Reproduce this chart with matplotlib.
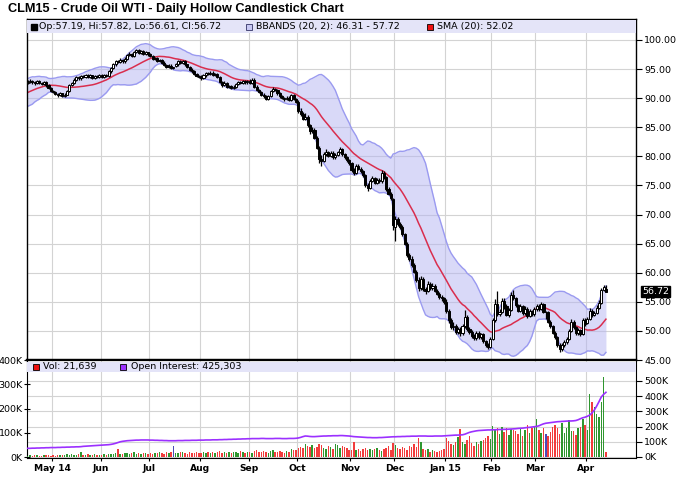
import numpy as np
import pandas as pd
import matplotlib
matplotlib.use('Agg')
import matplotlib.pyplot as plt
from matplotlib.patches import Rectangle

# CLM15 daily sessions, 15 Apr 2014 .. 14 Apr 2015 (exchange holidays dropped)
holidays = ['2014-04-18', '2014-05-26', '2014-07-04', '2014-09-01', '2014-11-27',
            '2014-12-25', '2015-01-01', '2015-01-19', '2015-02-16', '2015-04-03']
dates = pd.bdate_range('2014-04-15', '2015-04-14', freq='C', holidays=holidays)

# closes before the first visible day (only feed the 20-day bands)
prior_closes = [89.2, 89.5, 89.0, 89.6, 90.1, 89.8, 90.3, 90.6, 90.2, 90.9,
                91.3, 91.0, 91.6, 92.0, 91.8, 92.3, 92.6, 92.2, 92.5]

opens = [
    92.6, 92.8, 93.0, 92.8, 92.6, 92.9, 92.6, 92.5, 92.7, 92.2, 91.8,
    91.2, 91.1, 90.7, 90.5, 90.8, 90.4, 90.6, 91.3, 92.3, 92.6, 93.2, 93.6, 93.4, 93.8, 93.7, 94.0, 93.6, 93.9, 93.5, 93.8, 93.6,
    93.9, 93.7, 94.0, 93.8, 94.6, 95.2, 95.8, 96.4, 96.2, 96.6, 96.3, 96.8, 97.4, 97.6, 97.3, 97.9, 98.2, 97.8, 98.1, 97.6, 97.9,
    97.5, 97.2, 96.8, 96.9, 96.4, 96.6, 96.1, 95.7, 95.4, 95.6, 95.2, 95.5, 95.8, 96.3, 96.1, 96.4, 95.8, 95.3, 94.9, 94.6, 94.1, 93.8,
    93.6, 93.5, 93.9, 94.3, 94.1, 94.4, 94.0, 94.2, 93.6, 92.8, 92.3, 92.6, 91.9, 92.1, 91.7, 92.0, 92.4, 92.7, 92.6, 92.9, 92.7,
    93.0, 92.6, 93.2, 92.0, 91.4, 91.0, 90.6, 90.3, 89.9, 90.4, 91.2, 91.6, 91.4, 90.8, 90.3, 90.0, 89.8, 90.1, 89.7, 90.5, 89.9,
    89.4, 87.8, 87.2, 86.5, 86.8, 85.3, 84.3, 84.6, 83.2, 81.5, 79.6, 79.2, 80.4, 80.8, 80.1, 80.6, 79.8, 80.3, 80.7, 81.2, 80.4, 79.9, 79.3,
    78.9, 77.6, 77.2, 78.3, 77.9, 77.4, 76.8, 75.0, 74.6, 75.8, 76.2, 75.5, 76.0, 75.7, 77.2, 76.4, 74.4, 73.6, 72.6,
    67.9, 69.2, 68.4, 67.9, 66.6, 65.0, 63.0, 62.4, 61.3, 60.2, 58.8, 57.4, 58.9, 57.2, 56.8, 58.1, 57.3, 57.8, 56.9, 56.4, 55.8, 55.6,
    55.0, 53.4, 51.8, 50.7, 50.9, 49.8, 50.3, 49.6, 50.8, 52.4, 50.3, 49.8, 49.1, 48.7, 49.6, 48.9, 49.4, 48.2, 47.6, 47.3,
    48.6, 51.8, 54.6, 52.9, 53.2, 55.1, 54.2, 52.8, 53.6, 56.2, 55.7, 54.4, 53.5, 54.2, 53.0, 53.8, 52.6, 53.4, 52.9,
    53.7, 54.3, 53.8, 54.6, 53.2, 53.2, 51.6, 50.8, 49.7, 48.9, 47.6, 46.9, 47.6, 48.1, 48.6, 50.0, 51.6, 50.6, 49.6, 50.2, 49.5, 51.9,
    51.4, 52.0, 53.5, 52.7, 53.1, 54.0, 54.8, 57.0, 57.19,
]
highs = [
    93.1, 93.3, 93.2, 93.0, 93.1, 93.1, 92.8, 92.9, 92.9, 92.4, 91.9,
    91.4, 91.3, 90.9, 91.0, 90.9, 90.8, 91.4, 92.5, 92.8, 93.4, 93.8, 93.8, 94.0, 94.0, 94.2, 94.1, 94.1, 94.0, 94.0, 94.0, 94.1,
    94.1, 94.2, 94.2, 94.8, 95.4, 96.0, 96.6, 96.6, 96.9, 96.8, 97.0, 97.6, 97.9, 97.8, 98.1, 98.5, 98.4, 98.3, 98.2, 98.1, 98.0,
    97.7, 97.4, 97.1, 97.1, 96.8, 96.8, 96.3, 95.9, 95.8, 95.8, 95.4, 96.0, 96.5, 96.5, 96.6, 96.5, 95.9, 95.5, 95.1, 94.8, 94.3, 94.0,
    93.9, 94.1, 94.5, 94.5, 94.6, 94.6, 94.4, 94.3, 93.8, 93.0, 92.9, 92.8, 92.3, 92.3, 92.2, 92.6, 92.9, 92.9, 93.1, 93.1, 93.2,
    93.3, 93.5, 93.4, 92.2, 91.6, 91.2, 90.9, 90.5, 90.6, 91.4, 91.9, 91.8, 91.5, 91.0, 90.5, 90.2, 90.3, 90.3, 90.7, 90.7, 90.1,
    89.6, 88.3, 87.7, 87.4, 87.1, 85.6, 85.1, 84.9, 83.5, 81.8, 80.3, 80.8, 81.3, 81.0, 80.9, 80.9, 80.5, 80.9, 81.6, 81.4, 80.6, 80.1, 79.6,
    79.1, 78.0, 78.6, 78.6, 78.1, 77.6, 77.0, 75.4, 76.1, 76.6, 76.4, 76.3, 76.2, 77.7, 77.5, 76.6, 74.7, 73.9, 72.9,
    69.8, 69.6, 68.8, 68.2, 66.9, 65.3, 63.4, 62.8, 61.6, 60.5, 59.2, 59.4, 59.3, 57.6, 58.6, 58.4, 58.2, 58.0, 57.2, 56.7, 56.1, 55.9,
    55.4, 53.8, 52.3, 51.6, 51.2, 50.6, 50.6, 51.2, 53.6, 52.7, 50.7, 50.1, 49.4, 49.9, 49.9, 49.7, 49.6, 48.5, 47.9, 48.9,
    52.2, 55.4, 56.9, 53.8, 55.6, 55.6, 54.6, 54.0, 56.6, 57.0, 55.9, 54.7, 54.6, 54.4, 54.2, 54.1, 53.8, 53.6, 54.1,
    54.7, 54.6, 54.9, 54.8, 53.5, 53.4, 51.9, 51.0, 49.9, 49.2, 47.9, 47.9, 48.4, 48.9, 50.3, 52.0, 51.9, 50.9, 50.5, 50.4, 52.3, 52.2,
    52.4, 54.0, 53.8, 53.5, 54.4, 55.3, 57.3, 57.9, 57.82,
]
lows = [
    92.4, 92.6, 92.5, 92.3, 92.4, 92.4, 92.2, 92.3, 92.0, 91.6, 91.0,
    90.8, 90.5, 90.2, 90.3, 90.2, 90.2, 90.5, 91.1, 92.1, 92.4, 93.0, 93.2, 93.2, 93.5, 93.5, 93.4, 93.4, 93.3, 93.3, 93.4, 93.4,
    93.5, 93.5, 93.6, 93.7, 94.4, 95.0, 95.6, 96.0, 96.0, 96.1, 96.1, 96.6, 97.2, 97.1, 97.1, 97.7, 97.6, 97.6, 97.4, 97.4, 97.3,
    97.0, 96.6, 96.6, 96.2, 96.2, 95.9, 95.5, 95.2, 95.2, 95.0, 95.0, 95.3, 95.6, 95.9, 95.9, 95.6, 95.1, 94.7, 94.4, 93.9, 93.6, 93.4,
    93.2, 93.3, 93.7, 93.9, 93.9, 93.8, 93.8, 93.4, 92.6, 92.0, 92.1, 91.7, 91.7, 91.5, 91.5, 91.8, 92.2, 92.4, 92.4, 92.5, 92.5,
    92.4, 92.4, 91.8, 91.2, 90.8, 90.4, 90.1, 89.6, 89.7, 90.2, 91.0, 91.2, 90.6, 90.1, 89.8, 89.5, 89.6, 89.5, 89.5, 89.7, 89.1,
    87.5, 86.9, 86.2, 86.2, 85.0, 83.9, 84.0, 82.9, 81.2, 78.9, 78.4, 79.0, 80.1, 79.8, 79.9, 79.5, 79.5, 80.0, 80.5, 80.1, 79.6, 79.0, 78.5,
    77.3, 76.8, 77.0, 77.6, 77.2, 76.5, 74.7, 74.1, 74.4, 75.6, 75.2, 75.3, 75.4, 75.5, 76.1, 74.1, 73.3, 72.5, 67.4,
    65.5, 68.0, 67.5, 66.3, 64.7, 62.7, 62.0, 61.0, 59.9, 58.4, 56.9, 57.1, 56.9, 56.4, 56.6, 57.0, 57.0, 56.6, 56.1, 55.5, 55.2, 54.7,
    53.1, 51.4, 50.3, 50.2, 49.5, 49.4, 49.2, 49.3, 50.5, 50.0, 49.5, 48.8, 48.4, 48.5, 48.6, 48.6, 47.9, 47.2, 46.9, 47.1,
    48.4, 51.5, 52.6, 52.5, 53.0, 53.8, 52.5, 52.4, 53.4, 55.3, 54.1, 53.2, 53.2, 52.7, 52.8, 52.3, 52.4, 52.6, 52.6,
    53.4, 53.5, 53.6, 53.0, 52.1, 51.3, 50.5, 49.4, 48.6, 47.3, 46.4, 46.6, 47.3, 47.7, 48.4, 49.8, 50.3, 49.3, 49.3, 49.2, 49.3, 50.9,
    51.2, 51.8, 52.4, 52.5, 52.9, 53.8, 54.6, 56.8, 56.61,
]
closes = [
    92.8, 93.0, 92.7, 92.6, 92.9, 92.6, 92.5, 92.7, 92.2, 91.8, 91.2,
    91.0, 90.7, 90.5, 90.8, 90.4, 90.6, 91.2, 92.3, 92.6, 93.2, 93.6, 93.4, 93.8, 93.7, 94.0, 93.6, 93.9, 93.5, 93.8, 93.6, 93.9,
    93.7, 94.0, 93.8, 94.6, 95.2, 95.8, 96.4, 96.2, 96.6, 96.3, 96.8, 97.4, 97.6, 97.3, 97.9, 98.2, 97.8, 98.1, 97.6, 97.9, 97.5,
    97.2, 96.8, 96.9, 96.4, 96.6, 96.1, 95.7, 95.4, 95.6, 95.2, 95.2, 95.8, 96.3, 96.1, 96.4, 95.8, 95.3, 94.9, 94.6, 94.1, 93.8, 93.6,
    93.5, 93.9, 94.3, 94.1, 94.4, 94.0, 94.2, 93.6, 92.8, 92.3, 92.6, 91.9, 92.1, 91.7, 92.0, 92.4, 92.7, 92.6, 92.9, 92.7, 93.0,
    92.6, 93.2, 92.0, 91.4, 91.0, 90.6, 90.3, 89.9, 90.4, 91.2, 91.6, 91.4, 90.8, 90.3, 90.0, 89.8, 90.1, 89.7, 90.5, 89.9, 89.4,
    87.8, 87.2, 86.5, 86.8, 85.3, 84.3, 84.6, 83.2, 81.5, 79.6, 79.2, 80.4, 80.8, 80.1, 80.6, 79.8, 80.3, 80.7, 81.2, 80.4, 79.9, 79.3, 78.9,
    77.6, 77.2, 78.3, 77.9, 77.4, 76.8, 75.0, 74.6, 75.8, 76.2, 75.5, 76.0, 75.7, 77.2, 76.4, 74.4, 73.6, 72.8, 68.2,
    69.2, 68.4, 67.9, 66.6, 65.0, 63.0, 62.4, 61.3, 60.2, 58.8, 57.4, 58.9, 57.2, 56.8, 58.1, 57.3, 57.8, 56.9, 56.4, 55.8, 55.6, 55.0,
    53.4, 51.8, 50.7, 50.9, 49.8, 50.3, 49.6, 50.8, 52.4, 50.3, 49.8, 49.1, 48.7, 49.6, 48.9, 49.4, 48.2, 47.6, 47.3, 48.6,
    51.8, 54.6, 52.9, 53.2, 55.1, 54.2, 52.8, 53.6, 56.2, 55.7, 54.4, 53.5, 54.2, 53.0, 53.8, 52.6, 53.4, 52.9, 53.7,
    54.3, 53.8, 54.6, 53.2, 53.2, 51.6, 50.8, 49.7, 48.9, 47.6, 46.9, 47.6, 48.1, 48.6, 50.0, 51.6, 50.6, 49.6, 50.2, 49.5, 51.9, 51.2,
    52.0, 53.5, 52.7, 53.1, 54.0, 54.8, 57.0, 57.6, 56.72,
]
# volume and open interest, thousands of contracts
volume = [
    6, 8, 5, 7, 9, 6, 5, 8, 7, 10, 6,
    8, 6, 9, 7, 10, 8, 12, 9, 11, 7, 10, 13, 19, 9, 8, 11, 7, 9, 12, 10, 8,
    10, 12, 9, 14, 11, 13, 16, 33, 14, 12, 18, 15, 13, 17, 19, 14, 16, 12, 15, 18, 13,
    16, 14, 18, 15, 20, 17, 13, 19, 16, 21, 45, 17, 15, 19, 22, 18, 14, 20, 17, 16, 21, 18,
    17, 20, 15, 22, 18, 21, 16, 19, 23, 17, 20, 18, 22, 15, 19, 21, 17, 24, 19, 16, 20,
    22, 18, 25, 28, 20, 19, 24, 21, 17, 23, 29, 19, 22, 26, 20, 18, 24, 21, 33, 27, 30,
    36, 42, 38, 54, 45, 40, 48, 36, 42, 55, 50, 38, 32, 44, 40, 35, 55, 50, 38, 45, 41, 36, 30,
    28, 62, 30, 35, 26, 32, 38, 29, 33, 27, 31, 36, 28, 25, 34, 39, 45, 30, 56,
    48, 38, 34, 42, 36, 30, 45, 40, 52, 41, 78, 60, 35, 28, 33, 22, 30, 26, 20, 24, 28, 32,
    78, 66, 55, 48, 62, 82, 115, 60, 52, 70, 86, 58, 47, 63, 55, 68, 72, 80, 86, 74,
    128, 110, 118, 96, 122, 105, 120, 92, 115, 110, 108, 96, 120, 88, 112, 130, 98, 118, 124,
    156, 111, 98, 120, 95, 86, 104, 124, 132, 118, 96, 140, 99, 120, 153, 108, 106, 92, 118, 125, 156, 130,
    111, 258, 228, 205, 178, 165, 225, 330, 21.639,
]
open_interest = [
    57, 57, 58, 58, 59, 59, 60, 60, 61, 61, 62,
    62, 62, 63, 63, 64, 64, 65, 65, 66, 66, 67, 67, 68, 70, 71, 72, 73, 74, 75, 76, 77,
    78, 79, 80, 81, 83, 86, 90, 95, 100, 103, 105, 107, 108, 109, 110, 111, 111, 112, 112, 112, 112,
    111, 111, 110, 110, 109, 109, 108, 108, 107, 107, 107, 107, 108, 108, 108, 109, 109, 109, 110, 110, 110, 111,
    111, 111, 112, 112, 112, 113, 113, 113, 114, 114, 115, 115, 116, 116, 117, 117, 118, 118, 119, 119, 120,
    120, 121, 121, 121, 121, 122, 122, 121, 121, 121, 121, 122, 122, 122, 121, 121, 121, 122, 122, 122, 123,
    125, 129, 134, 138, 137, 135, 134, 134, 135, 136, 137, 138, 138, 139, 139, 140, 140, 140, 141, 141, 140, 139, 138,
    136, 134, 133, 132, 131, 130, 129, 128, 128, 127, 127, 127, 128, 128, 129, 130, 131, 132, 133,
    133, 134, 134, 135, 135, 136, 136, 137, 137, 137, 138, 138, 138, 138, 137, 137, 137, 138, 138, 138, 138, 139,
    140, 141, 142, 143, 144, 144, 145, 146, 150, 156, 162, 166, 169, 172, 174, 175, 176, 177, 178, 178,
    179, 179, 180, 181, 181, 182, 182, 183, 184, 185, 186, 188, 189, 190, 192, 194, 195, 197, 199,
    201, 205, 212, 218, 222, 224, 226, 228, 230, 232, 233, 234, 235, 236, 237, 237, 238, 240, 245, 252, 258, 262,
    268, 276, 290, 309, 335, 364, 395, 412, 425.303,
]

o, h, l, c = (np.array(v) for v in (opens, highs, lows, closes))
x = np.arange(len(c))

s = pd.Series(prior_closes + closes)
sma = s.rolling(20).mean().to_numpy()[len(prior_closes):]
sd = s.rolling(20).std(ddof=0).to_numpy()[len(prior_closes):]
upper, lower = sma + 2 * sd, sma - 2 * sd

months = pd.Series(dates.to_period('M'))
month_first = np.flatnonzero(months.ne(months.shift()).to_numpy())[1:]
month_pos = month_first - 0.5
month_lab = []
for k, i in enumerate(month_first):
    d = dates[i]
    lab = d.strftime('%b')
    if k == 0 or d.month == 1:
        lab += d.strftime(' %y')
    month_lab.append(lab)

plt.rcParams['font.family'] = ['DejaVu Sans']
W, H = 679, 497
fig = plt.figure(figsize=(W / 100, H / 100), dpi=100)


def box(left, top, right, bottom):
    return [left / W, 1 - bottom / H, (right - left) / W, (bottom - top) / H]


grid_kw = dict(color='#d3d3d3', lw=0.8)
XL = (-0.3, 263)
FS = 6.8

# ---- price panel
ax_p = fig.add_axes(box(27, 19, 636, 360))
ax_p.set_axisbelow(True)
ax_p.grid(True, **grid_kw)
ax_p.fill_between(x, lower, upper, color='#b4b4f2', alpha=0.5, lw=0, zorder=1)
ax_p.plot(x, upper, color='#9a9af0', lw=1, zorder=1.5)
ax_p.plot(x, lower, color='#9a9af0', lw=1, zorder=1.5)
ax_p.plot(x, sma, color='#d92e4e', lw=1.1, zorder=2)

up = c >= o
body_lo = np.minimum(o, c)
body_h = np.maximum(np.abs(c - o), 0.08)
ax_p.vlines(x, l, h, color='black', lw=0.9, zorder=3)
ax_p.bar(x[up], body_h[up], bottom=body_lo[up], width=0.9, facecolor='white',
         edgecolor='black', lw=0.7, zorder=4)
ax_p.bar(x[~up], body_h[~up], bottom=body_lo[~up], width=0.9, facecolor='black',
         edgecolor='black', lw=0.7, zorder=4)

ax_p.set_xlim(*XL)
ax_p.set_ylim(45, 103.6)
ax_p.set_yticks(np.arange(45, 101, 5))
ax_p.set_yticklabels([f'{v:.2f}' for v in np.arange(45, 101, 5)])
ax_p.yaxis.tick_right()
ax_p.tick_params(axis='y', direction='out', length=4, width=0.8, labelsize=FS, pad=2)
ax_p.set_xticks(month_pos)
ax_p.tick_params(axis='x', length=0, labelbottom=False)
for sp in ax_p.spines.values():
    sp.set_linewidth(1)
ax_p.spines['bottom'].set_linewidth(1.6)

ax_p.add_patch(Rectangle((0, 0.959), 1, 0.038, transform=ax_p.transAxes,
                         fc='#e4e4f8', ec='none', zorder=5))
ly = 0.978
ax_p.plot([0.0123], [ly], marker='s', ms=4.8, mfc='black', mec='black',
          transform=ax_p.transAxes, clip_on=False, zorder=6)
ax_p.text(0.0205, ly, f'Op:{opens[-1]:.2f}, Hi:{highs[-1]:.2f}, Lo:{lows[-1]:.2f}, Cl:{closes[-1]:.2f}',
          transform=ax_p.transAxes, va='center', fontsize=FS, zorder=6)
ax_p.plot([0.3645], [ly], marker='s', ms=4.8, mfc='#c8c8f4', mec='#333366', mew=0.6,
          transform=ax_p.transAxes, clip_on=False, zorder=6)
ax_p.text(0.376, ly, f'BBANDS (20, 2): {lower[-1]:.2f} - {upper[-1]:.2f}',
          transform=ax_p.transAxes, va='center', fontsize=FS, zorder=6)
ax_p.plot([0.662], [ly], marker='s', ms=4.8, mfc='#ee1111', mec='black', mew=0.6,
          transform=ax_p.transAxes, clip_on=False, zorder=6)
ax_p.text(0.673, ly, f'SMA (20): {sma[-1]:.2f}',
          transform=ax_p.transAxes, va='center', fontsize=FS, zorder=6)

ax_p.annotate(f'{closes[-1]:.2f}', xy=(1, closes[-1]), xycoords=('axes fraction', 'data'),
              xytext=(4.5, 0), textcoords='offset points', va='center', ha='left',
              fontsize=FS, color='white',
              bbox=dict(boxstyle='square,pad=0.12', fc='black', ec='black'))

# ---- volume / open interest panel
ax_oi = fig.add_axes(box(27, 360, 636, 458))
ax_oi.set_axisbelow(True)
ax_oi.set_ylim(-6.6, 638)
ax_oi.grid(True, **grid_kw)
ax_oi.set_xlim(*XL)

ax_v = ax_oi.twinx()
ax_v.set_ylim(-4.1, 400)
ax_v.set_yticks(range(0, 401, 100))
ax_v.set_yticklabels([f'{v}K' for v in range(0, 401, 100)])
prev = np.r_[prior_closes[-1], c[:-1]]
vcol = np.where(c > prev, '#2f962f', np.where(c < prev, '#f23c3c', '#4a4ab8'))
ax_v.bar(x, volume, width=0.62, color=vcol, lw=0)
ax_v.set_xlim(*XL)
for sp in ax_v.spines.values():
    sp.set_visible(False)

ax_line = ax_oi.twinx()
ax_line.set_ylim(ax_oi.get_ylim())
ax_line.set_xlim(*XL)
ax_line.plot(x, open_interest, color='#9b30ff', lw=1.2)
ax_line.set_yticks([])
for sp in ax_line.spines.values():
    sp.set_visible(False)

# twinx moves the host ticks to the left, so set sides afterwards
ax_oi.yaxis.tick_right()
ax_oi.set_yticks(range(0, 501, 100))
ax_oi.set_yticklabels([f'{v}K' for v in range(0, 501, 100)])
ax_oi.tick_params(axis='y', direction='out', length=4, width=0.8, labelsize=FS, pad=2)
ax_oi.set_xticks(month_pos)
ax_oi.set_xticklabels(month_lab, fontweight='bold', fontsize=6.6)
ax_oi.tick_params(axis='x', length=2, pad=2)
ax_oi.spines['top'].set_linewidth(1.6)
ax_v.yaxis.tick_left()
ax_v.tick_params(axis='y', direction='inout', length=4, width=0.8, labelsize=FS, pad=1)

ax_line.add_patch(Rectangle((0, 0.878), 1, 0.102, transform=ax_line.transAxes,
                            fc='#e4e4f8', ec='none', zorder=5))
vy = 0.929
ax_line.plot([0.0145], [vy], marker='s', ms=4.8, mfc='#ee1111', mec='black', mew=0.6,
             transform=ax_line.transAxes, clip_on=False, zorder=6)
ax_line.text(0.0265, vy, f'Vol: {volume[-1] * 1000:,.0f}', transform=ax_line.transAxes,
             va='center', fontsize=FS, zorder=6)
ax_line.plot([0.157], [vy], marker='s', ms=4.8, mfc='#9b30ff', mec='black', mew=0.6,
             transform=ax_line.transAxes, clip_on=False, zorder=6)
ax_line.text(0.170, vy, f'Open Interest: {open_interest[-1] * 1000:,.0f}',
             transform=ax_line.transAxes, va='center', fontsize=FS, zorder=6)

fig.text(8 / W, 1 - 9 / H, 'CLM15 - Crude Oil WTI - Daily Hollow Candlestick Chart',
         family='Liberation Sans', fontweight='bold', fontsize=9.2, va='center', ha='left')

fig.savefig('out.png', dpi=100)
